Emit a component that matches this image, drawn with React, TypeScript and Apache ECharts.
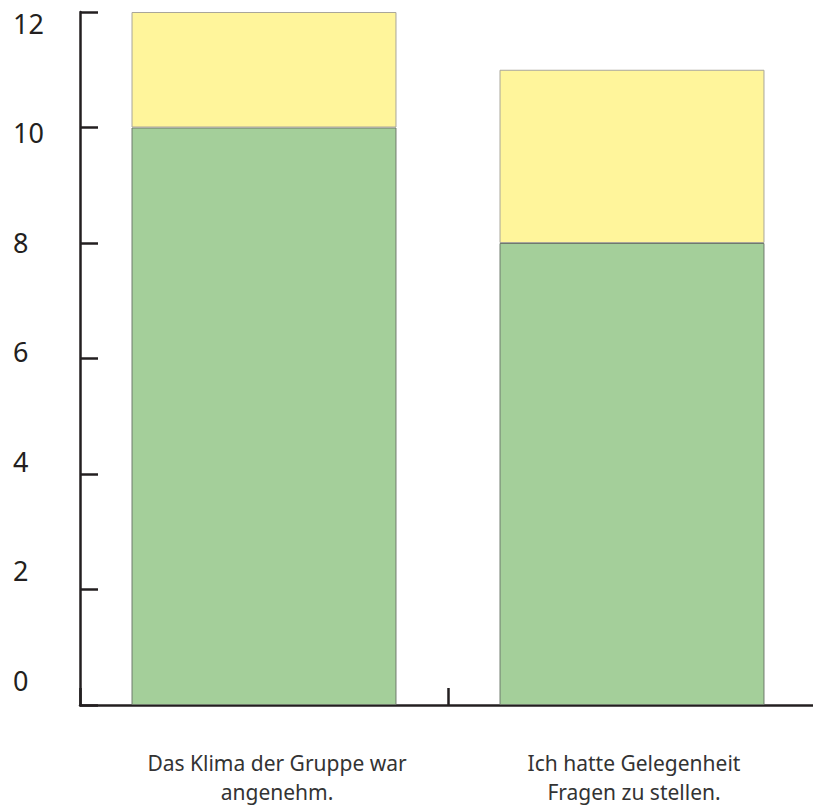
import React, { useEffect, useRef } from "react";
import * as echarts from "echarts";

const categories = ["Das Klima der Gruppe war\nangenehm.", "Ich hatte Gelegenheit\nFragen zu stellen."];
const greenValues = [10, 8];
const yellowValues = [2, 3];
const yMin = 0;
const yMax = 12;
const yInterval = 2;

export default function App() {
  const ref = useRef<HTMLDivElement>(null);
  useEffect(() => {
    if (!ref.current) return;
    const chart = echarts.init(ref.current, null, { renderer: "svg" });
    const axisColor = "#231f20";
    const labelStyle = { fontSize: 21, lineHeight: 29, color: "#333", fontFamily: "Noto Sans" };
    chart.setOption({
      animation: false,
      textStyle: { fontFamily: "Noto Sans" },
      grid: [
        { left: 80, top: 12, bottom: 102, width: 736, containLabel: false, outerBoundsMode: "none" },
        { left: 80, top: 23, bottom: 127, width: 736, containLabel: false, outerBoundsMode: "none" },
      ],
      xAxis: [
        {
          type: "category",
          gridIndex: 0,
          data: categories,
          axisLine: { show: true, lineStyle: { color: axisColor, width: 2.5 } },
          axisTick: { show: true, inside: true, length: 17, lineStyle: { color: axisColor, width: 2.5 } },
          axisLabel: {
            interval: 0,
            margin: 43,
            ...labelStyle,
            formatter: (value: string, idx: number) => {
              const key = idx === 0 ? "a" : "b";
              return value
                .split("\n")
                .map((l) => `{${key}|${l}}`)
                .join("\n");
            },
            rich: {
              a: { ...labelStyle, padding: [0, 0, 0, 26] },
              b: { ...labelStyle, padding: [0, 0, 0, 4] },
            },
          },
          splitLine: { show: false },
        },
        {
          type: "category",
          gridIndex: 1,
          data: categories,
          show: false,
        },
      ],
      yAxis: [
        {
          type: "value",
          gridIndex: 0,
          min: yMin,
          max: yMax,
          interval: yInterval,
          axisLine: { show: true, lineStyle: { color: axisColor, width: 2.5 } },
          axisTick: { show: true, inside: true, length: 18, lineStyle: { color: axisColor, width: 2.5 } },
          axisLabel: { show: false },
          splitLine: { show: false },
        },
        {
          type: "value",
          gridIndex: 1,
          min: yMin,
          max: yMax,
          interval: yInterval,
          axisLine: { show: false },
          axisTick: { show: false },
          splitLine: { show: false },
          axisLabel: {
            show: true,
            align: "left",
            margin: 67,
            fontSize: 27,
            color: "#231f20",
            fontFamily: "Noto Sans",
          },
        },
      ],
      series: [
        {
          type: "bar",
          stack: "total",
          data: greenValues,
          barWidth: "72%",
          itemStyle: { color: "#a4cf9a", borderColor: "#6f7a6c", borderWidth: 1 },
        },
        {
          type: "bar",
          stack: "total",
          data: yellowValues,
          barWidth: "72%",
          itemStyle: { color: "#fff59b", borderColor: "#a9a69a", borderWidth: 1 },
        },
      ],
    });
    return () => chart.dispose();
  }, []);
  return (
    <div
      ref={ref}
      style={{ position: "absolute", left: 0, top: 0, width: 813, height: 807 }}
    />
  );
}
